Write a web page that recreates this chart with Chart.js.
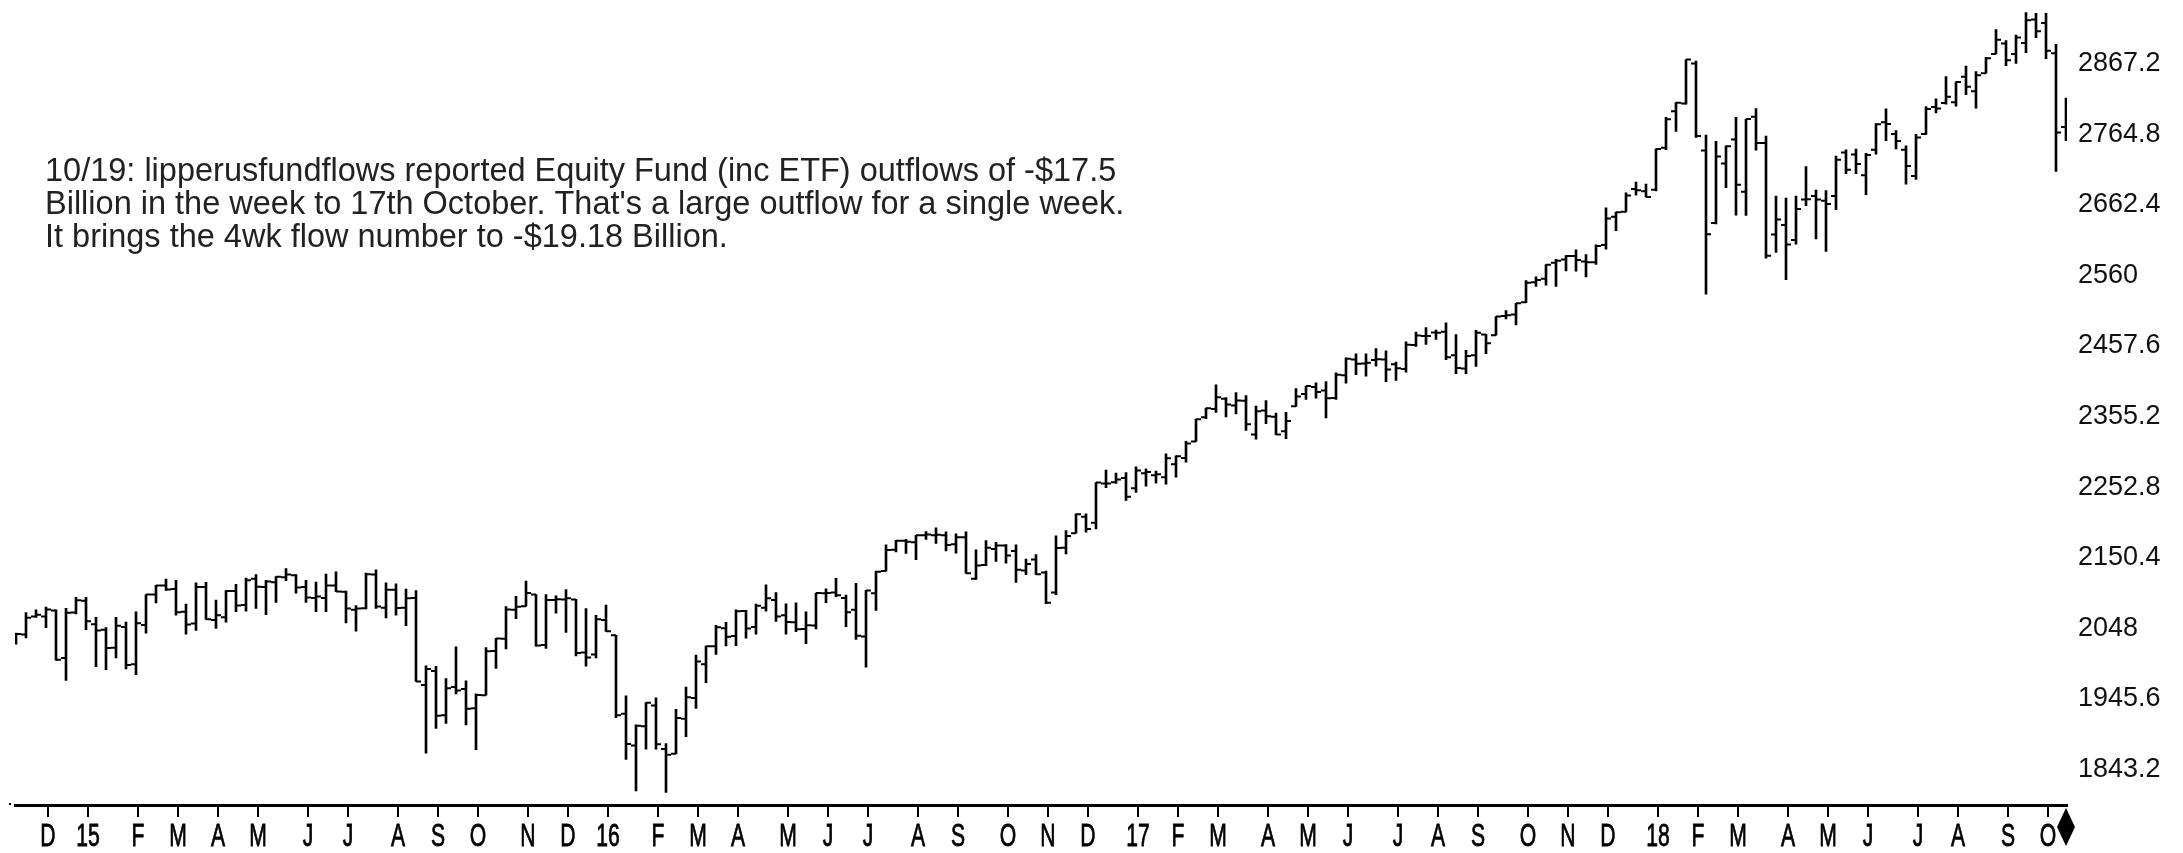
<!DOCTYPE html>
<html>
<head>
<meta charset="utf-8">
<title>S&amp;P 500 weekly</title>
<script src="https://cdn.jsdelivr.net/npm/chart.js@4.4.1/dist/chart.umd.min.js"></script>
<style>
  html, body { margin: 0; padding: 0; background: #fff; }
  #wrap { width: 2183px; height: 853px; }
</style>
</head>
<body>
<div id="wrap"><canvas id="spx" width="2183" height="853"></canvas></div>
<script>
// week-ending Fridays, one bar each
const weekEnding = [
  '2014-11-14','2014-11-21','2014-11-28','2014-12-05','2014-12-12','2014-12-19','2014-12-26',
  '2015-01-02','2015-01-09','2015-01-16','2015-01-23','2015-01-30','2015-02-06','2015-02-13','2015-02-20','2015-02-27',
  '2015-03-06','2015-03-13','2015-03-20','2015-03-27','2015-04-03','2015-04-10','2015-04-17','2015-04-24',
  '2015-05-01','2015-05-08','2015-05-15','2015-05-22','2015-05-29','2015-06-05','2015-06-12','2015-06-19','2015-06-26',
  '2015-07-03','2015-07-10','2015-07-17','2015-07-24','2015-07-31','2015-08-07','2015-08-14','2015-08-21','2015-08-28',
  '2015-09-04','2015-09-11','2015-09-18','2015-09-25','2015-10-02','2015-10-09','2015-10-16','2015-10-23','2015-10-30',
  '2015-11-06','2015-11-13','2015-11-20','2015-11-27','2015-12-04','2015-12-11','2015-12-18','2015-12-25',
  '2016-01-01','2016-01-08','2016-01-15','2016-01-22','2016-01-29','2016-02-05','2016-02-12','2016-02-19','2016-02-26',
  '2016-03-04','2016-03-11','2016-03-18','2016-03-25','2016-04-01','2016-04-08','2016-04-15','2016-04-22','2016-04-29',
  '2016-05-06','2016-05-13','2016-05-20','2016-05-27','2016-06-03','2016-06-10','2016-06-17','2016-06-24',
  '2016-07-01','2016-07-08','2016-07-15','2016-07-22','2016-07-29','2016-08-05','2016-08-12','2016-08-19','2016-08-26',
  '2016-09-02','2016-09-09','2016-09-16','2016-09-23','2016-09-30','2016-10-07','2016-10-14','2016-10-21','2016-10-28',
  '2016-11-04','2016-11-11','2016-11-18','2016-11-25','2016-12-02','2016-12-09','2016-12-16','2016-12-23','2016-12-30',
  '2017-01-06','2017-01-13','2017-01-20','2017-01-27','2017-02-03','2017-02-10','2017-02-17','2017-02-24',
  '2017-03-03','2017-03-10','2017-03-17','2017-03-24','2017-03-31','2017-04-07','2017-04-14','2017-04-21','2017-04-28',
  '2017-05-05','2017-05-12','2017-05-19','2017-05-26','2017-06-02','2017-06-09','2017-06-16','2017-06-23','2017-06-30',
  '2017-07-07','2017-07-14','2017-07-21','2017-07-28','2017-08-04','2017-08-11','2017-08-18','2017-08-25',
  '2017-09-01','2017-09-08','2017-09-15','2017-09-22','2017-09-29','2017-10-06','2017-10-13','2017-10-20','2017-10-27',
  '2017-11-03','2017-11-10','2017-11-17','2017-11-24','2017-12-01','2017-12-08','2017-12-15','2017-12-22','2017-12-29',
  '2018-01-05','2018-01-12','2018-01-19','2018-01-26','2018-02-02','2018-02-09','2018-02-16','2018-02-23',
  '2018-03-02','2018-03-09','2018-03-16','2018-03-23','2018-03-30','2018-04-06','2018-04-13','2018-04-20','2018-04-27',
  '2018-05-04','2018-05-11','2018-05-18','2018-05-25','2018-06-01','2018-06-08','2018-06-15','2018-06-22','2018-06-29',
  '2018-07-06','2018-07-13','2018-07-20','2018-07-27','2018-08-03','2018-08-10','2018-08-17','2018-08-24','2018-08-31',
  '2018-09-07','2018-09-14','2018-09-21','2018-09-28','2018-10-05','2018-10-12','2018-10-19',
]

const opens = [
  2032, 2039, 2065, 2065, 2074, 2005, 2071,
  2088, 2054, 2046, 2020, 2050, 1996, 2053, 2097, 2110, 2105, 2072, 2055, 2108, 2060, 2064, 2102, 2082,
  2120, 2108, 2115, 2122, 2125, 2108, 2092, 2092, 2110, 2101, 2075, 2077, 2126, 2078, 2104, 2078, 2092, 1966,
  1986, 1922, 1963, 1960, 1932, 1951, 2015, 2033, 2075, 2080, 2097, 2024, 2089, 2090, 2090, 2013, 2010,
  2060, 2038, 1924, 1878, 1906, 1936, 1873, 1866, 1917, 1947, 1996, 2022, 2048, 2037, 2073, 2050, 2078, 2089,
  2067, 2057, 2047, 2052, 2099, 2100, 2092, 2075, 2036, 2099, 2131, 2162, 2175, 2173, 2183, 2183, 2183,
  2170, 2180, 2120, 2140, 2163, 2168, 2160, 2132, 2148, 2129, 2100, 2165, 2186, 2210, 2201, 2258, 2260, 2266,
  2251, 2273, 2270, 2267, 2286, 2295, 2319, 2354, 2366, 2381, 2371, 2378, 2329, 2364, 2355, 2334, 2370,
  2388, 2398, 2393, 2382, 2415, 2438, 2432, 2437, 2438, 2431, 2424, 2459, 2472, 2477, 2478, 2444, 2425,
  2444, 2474, 2473, 2501, 2503, 2521, 2550, 2555, 2578, 2583, 2588, 2580, 2579, 2604, 2645, 2652, 2685, 2682,
  2684, 2745, 2798, 2809, 2867, 2741, 2636, 2722, 2757, 2681, 2790, 2752, 2619, 2633, 2611, 2670, 2675,
  2668, 2675, 2738, 2735, 2705, 2742, 2782, 2765, 2742, 2704, 2765, 2804, 2810, 2811, 2848, 2827, 2853, 2881,
  2896, 2881, 2897, 2931, 2926, 2882, 2775,
]

const highs = [
  2041, 2071, 2075, 2079, 2075, 2077, 2093,
  2093, 2064, 2049, 2064, 2057, 2072, 2097, 2110.5, 2119.6, 2117.5, 2083, 2114, 2114.9, 2089, 2102.6, 2111.9, 2120.9,
  2125.9, 2117.7, 2123, 2134.7, 2126, 2117.6, 2115, 2126.6, 2129.9, 2102, 2081, 2128, 2132.8, 2114, 2112.7, 2105, 2102.7, 1993.5,
  1993, 1975, 2021, 1972, 1953, 2020, 2033.5, 2079.7, 2094.3, 2116.5, 2097, 2097, 2095, 2104.3, 2090, 2076.7, 2067,
  2081.6, 2038, 1950, 1908, 1940.2, 1947.2, 1881, 1930.7, 1962.9, 2009.1, 2022.2, 2052.4, 2056.6, 2075, 2074, 2083, 2111, 2099.9,
  2083.4, 2084.9, 2071.9, 2099.3, 2105.3, 2120.6, 2096.1, 2113.3, 2103, 2131, 2169, 2175.6, 2177, 2182.9, 2188.5, 2193.8, 2187.9,
  2185, 2187.9, 2162, 2175.3, 2172.7, 2169.6, 2169, 2148.4, 2154.8, 2131, 2182.3, 2189.9, 2214, 2214.1, 2259.5, 2277.5, 2273, 2273.8,
  2282.1, 2279.3, 2276.2, 2301, 2298.3, 2319.2, 2351.3, 2367.3, 2401, 2382.8, 2390, 2385.7, 2370.4, 2378.4, 2360, 2361.4, 2395.7,
  2399.3, 2403.9, 2405.8, 2418.7, 2440.2, 2446.2, 2446.2, 2453.8, 2450.4, 2434.3, 2463.5, 2477.6, 2484, 2480.4, 2491, 2474, 2451,
  2480, 2474.5, 2500.2, 2508.9, 2519.4, 2552.5, 2557.7, 2575.4, 2583, 2588.4, 2597, 2590, 2604.2, 2657.7, 2651.7, 2679.6, 2695, 2692.1,
  2743.5, 2789.1, 2810.3, 2872.9, 2870.6, 2763.4, 2754.4, 2747.8, 2789.2, 2786.6, 2801.9, 2761.9, 2674.8, 2672.1, 2674.8, 2717.5, 2683.6,
  2682.9, 2732.9, 2742.1, 2742.9, 2736.9, 2779.9, 2801.4, 2769.9, 2747.8, 2764.4, 2804.5, 2816, 2848, 2840.4, 2863.4, 2855.6, 2876.2, 2916.5,
  2900.2, 2908.3, 2940.9, 2939.9, 2939.9, 2894.8, 2816.9,
]

const lows = [
  2025, 2034, 2064, 2049, 2002, 1972.6, 2069,
  2046, 1992.4, 1988, 2005, 1989, 1980.9, 2041, 2085, 2103, 2067, 2039.7, 2045, 2061, 2048, 2057, 2072, 2073,
  2077, 2067.9, 2085.6, 2117, 2099, 2085.7, 2072, 2072, 2101, 2056, 2044, 2076, 2077, 2063, 2067, 2052, 1970.9, 1867,
  1903, 1910, 1953, 1908, 1871.9, 1951, 1990, 2018, 2062, 2080, 2022, 2019, 2070, 2042, 2008, 1993, 2005,
  2043.6, 1918.5, 1857.8, 1812.3, 1872.7, 1872.7, 1810.1, 1866, 1891, 1931.8, 1969.3, 2010, 2022.5, 2022.8, 2033.8, 2039.7, 2073, 2057.9,
  2039.5, 2043, 2025.9, 2047, 2085.4, 2094.1, 2050.4, 2032.1, 1991.7, 2074, 2131, 2159, 2156.8, 2147.6, 2177, 2171, 2160.4,
  2157, 2127.8, 2119.1, 2139, 2145.2, 2142.6, 2114.7, 2126, 2125.7, 2083.8, 2097, 2156, 2186, 2187.5, 2192, 2252, 2258, 2233.6,
  2245, 2254.3, 2258.4, 2257, 2267.2, 2289, 2319, 2352, 2361, 2354.5, 2359, 2335, 2322.3, 2344.7, 2329, 2323, 2370,
  2379.8, 2381.7, 2353, 2380, 2403.6, 2415.7, 2413.8, 2428.3, 2405.7, 2407.7, 2419.6, 2457, 2459.9, 2467, 2437.8, 2417.4, 2417.4,
  2428, 2446.5, 2473, 2496.7, 2488, 2520.4, 2543.8, 2545.5, 2544, 2566.2, 2566, 2557.5, 2575.9, 2598, 2624.8, 2652, 2676.1, 2673.6,
  2682.4, 2742.1, 2768.6, 2808.1, 2760, 2532.7, 2634.6, 2687, 2647.3, 2647, 2741.4, 2585, 2593, 2553.8, 2605, 2660.9, 2612.7,
  2594.6, 2655.2, 2707.4, 2707.4, 2676.8, 2735.7, 2755.2, 2743.2, 2692, 2699, 2764.4, 2795.6, 2808, 2805.2, 2821.9, 2802.5, 2853, 2881,
  2864.1, 2867.3, 2882.9, 2904.7, 2874.3, 2710.5, 2755.2,
]

const closes = [
  2039.8, 2063.5, 2067.6, 2075.4, 2002.3, 2070.7, 2088.8,
  2058.2, 2044.8, 2019.4, 2051.8, 1995, 2055.5, 2097, 2110.3, 2104.5, 2071.3, 2053.4, 2108.1, 2061, 2067, 2102.1, 2081.2, 2117.7,
  2108.3, 2116.1, 2122.7, 2126.1, 2107.4, 2092.8, 2094.1, 2110, 2101.5, 2076.8, 2076.6, 2126.6, 2079.7, 2103.8, 2077.6, 2091.5, 1970.9, 1988.9,
  1921.2, 1961, 1958, 1931.3, 1951.4, 2014.9, 2033.1, 2075.2, 2079.4, 2099.2, 2023, 2089.2, 2090.1, 2091.7, 2012.4, 2005.6, 2061,
  2043.9, 1922, 1880.3, 1906.9, 1940.2, 1880, 1864.8, 1917.8, 1948, 2000, 2022.2, 2049.6, 2035.9, 2072.8, 2047.6, 2080.7, 2091.6, 2065.3,
  2057.1, 2046.6, 2052.3, 2099.1, 2099.1, 2096.1, 2071.2, 2037.4, 2103, 2129.9, 2161.7, 2175, 2173.6, 2182.9, 2184, 2183.9, 2169,
  2180, 2127.8, 2139.2, 2164.7, 2168.3, 2153.7, 2133, 2141.2, 2126.4, 2085.2, 2164.5, 2181.9, 2213.4, 2192, 2259.5, 2258.1, 2263.8, 2238.8,
  2277, 2274.6, 2271.3, 2294.7, 2297.4, 2316.1, 2351.2, 2367.3, 2383.1, 2372.6, 2378.3, 2344, 2362.7, 2355.5, 2329, 2348.7, 2384.2,
  2399.3, 2390.9, 2381.7, 2415.8, 2439.1, 2431.8, 2433.2, 2438.3, 2423.4, 2425.2, 2459.3, 2472.5, 2472.1, 2476.8, 2441.3, 2425.6, 2443.1,
  2476.6, 2461.4, 2500.2, 2502.2, 2519.4, 2549.3, 2553.2, 2575.2, 2581.1, 2587.8, 2582.3, 2578.9, 2602.4, 2642.2, 2651.5, 2675.8, 2683.3, 2673.6,
  2743.2, 2786.2, 2810.3, 2872.9, 2762.1, 2619.6, 2732.2, 2747.3, 2691.3, 2786.6, 2752, 2588.3, 2640.9, 2604.5, 2656.3, 2670.1, 2669.9,
  2663.4, 2727.7, 2713, 2721.3, 2734.6, 2779, 2779.4, 2754.9, 2718.4, 2759.8, 2801.3, 2801.8, 2818.8, 2840.4, 2833.3, 2850.1, 2874.7, 2901.5,
  2871.7, 2905, 2929.7, 2914, 2885.6, 2767.1, 2767.8,
]

// right-hand price labels
const priceLabels = ['1843.2', '1945.6', '2048', '2150.4', '2252.8', '2355.2', '2457.6', '2560', '2662.4', '2764.8', '2867.2']
// month initials, January shows the two-digit year instead
const monthInitials = ['J', 'F', 'M', 'A', 'M', 'J', 'J', 'A', 'S', 'O', 'N', 'D']

const noteLines = [
  '10/19: lipperusfundflows reported Equity Fund (inc ETF) outflows of -$17.5',
  'Billion in the week to 17th October. That\'s a large outflow for a single week.',
  'It brings the 4wk flow number to -$19.18 Billion.',
]

const INK = '#000'
const FONT = '"Liberation Sans", Arial, sans-serif'
const Y_MIN = 1791.8
const Y_MAX = 2952.7

// first bar of every month gets a tick
const monthTicks = []
weekEnding.forEach((d, i) => {
  const m = +d.slice(5, 7) - 1
  const prev = i > 0 ? +weekEnding[i - 1].slice(5, 7) - 1 : m
  if (i > 0 && m !== prev) {
    monthTicks.push({ index: i, label: m === 0 ? d.slice(2, 4) : monthInitials[m] })
  }
})

const overlay = {
  id: 'overlay',
  afterDraw(chart) {
    const { ctx, scales: { x } } = chart
    ctx.save()

    // month labels, squeezed sideways like the terminal font
    ctx.fillStyle = INK
    ctx.strokeStyle = INK
    ctx.lineWidth = 0.8
    ctx.font = `32px ${FONT}`
    ctx.textAlign = 'center'
    ctx.textBaseline = 'alphabetic'
    x.ticks.forEach(t => {
      ctx.save()
      ctx.translate(Math.round(x.getPixelForValue(t.value)), 846)
      ctx.scale(0.66, 1)
      ctx.fillText(t.label, 0, 0)
      ctx.strokeText(t.label, 0, 0)
      ctx.restore()
    })

    // little dot left of the axis
    ctx.fillRect(9, 803, 2, 2)

    // current bar marker
    const lx = Math.round(x.getPixelForValue(weekEnding.length - 1))
    ctx.beginPath()
    ctx.moveTo(lx, 808)
    ctx.lineTo(lx + 9, 827)
    ctx.lineTo(lx, 846)
    ctx.lineTo(lx - 9, 827)
    ctx.closePath()
    ctx.fill()

    // commentary
    ctx.fillStyle = '#222'
    ctx.font = `32.5px ${FONT}`
    ctx.textAlign = 'left'
    noteLines.forEach((line, i) => ctx.fillText(line, 45, 181 + i * 33))

    ctx.restore()
  },
}

const tickStyle = {
  pointStyle: 'line',
  pointRadius: 2.5,
  pointHoverRadius: 2.5,
  pointBorderWidth: 2,
  pointBorderColor: INK,
  pointBackgroundColor: INK,
  showLine: false,
}

new Chart(document.getElementById('spx'), {
  type: 'bar',
  data: {
    datasets: [
      {
        type: 'bar',
        data: weekEnding.map((_, i) => ({ x: i, y: [lows[i], highs[i]] })),
        backgroundColor: INK,
        borderWidth: 0,
        barThickness: 2,
      },
      {
        type: 'scatter',
        data: opens.map((v, i) => ({ x: i - 0.25, y: v })),
        ...tickStyle,
      },
      {
        type: 'scatter',
        data: closes.map((v, i) => ({ x: i + 0.25, y: v })),
        ...tickStyle,
      },
    ],
  },
  options: {
    responsive: false,
    animation: false,
    events: [],
    layout: { padding: { left: 15, top: 0, right: 0, bottom: 0 } },
    plugins: { legend: { display: false }, tooltip: { enabled: false } },
    scales: {
      x: {
        type: 'linear',
        min: -0.1,
        max: weekEnding.length - 0.9,
        offset: false,
        afterBuildTicks: s => { s.ticks = monthTicks.map(t => ({ value: t.index + 0.15 })) },
        ticks: { display: false, callback: (v, i) => monthTicks[i].label },
        grid: { display: true, offset: false, drawOnChartArea: false, drawTicks: true, tickLength: 12, color: INK, lineWidth: 2 },
        border: { display: true, color: INK, width: 3 },
        afterFit: s => { s.height = 48; s.paddingLeft = 0; s.paddingRight = 0 },
      },
      y: {
        position: 'right',
        min: Y_MIN,
        max: Y_MAX,
        afterBuildTicks: s => { s.ticks = priceLabels.map(l => ({ value: parseFloat(l) })) },
        ticks: {
          callback: (v, i) => priceLabels[i],
          font: { family: FONT, size: 27 },
          color: '#111',
          padding: 11,
          crossAlign: 'near',
        },
        grid: { display: false, drawTicks: false },
        border: { display: false },
        afterFit: s => { s.width = 116; s.paddingTop = 0; s.paddingBottom = 0 },
      },
    },
  },
  plugins: [overlay],
})
</script>
</body>
</html>
